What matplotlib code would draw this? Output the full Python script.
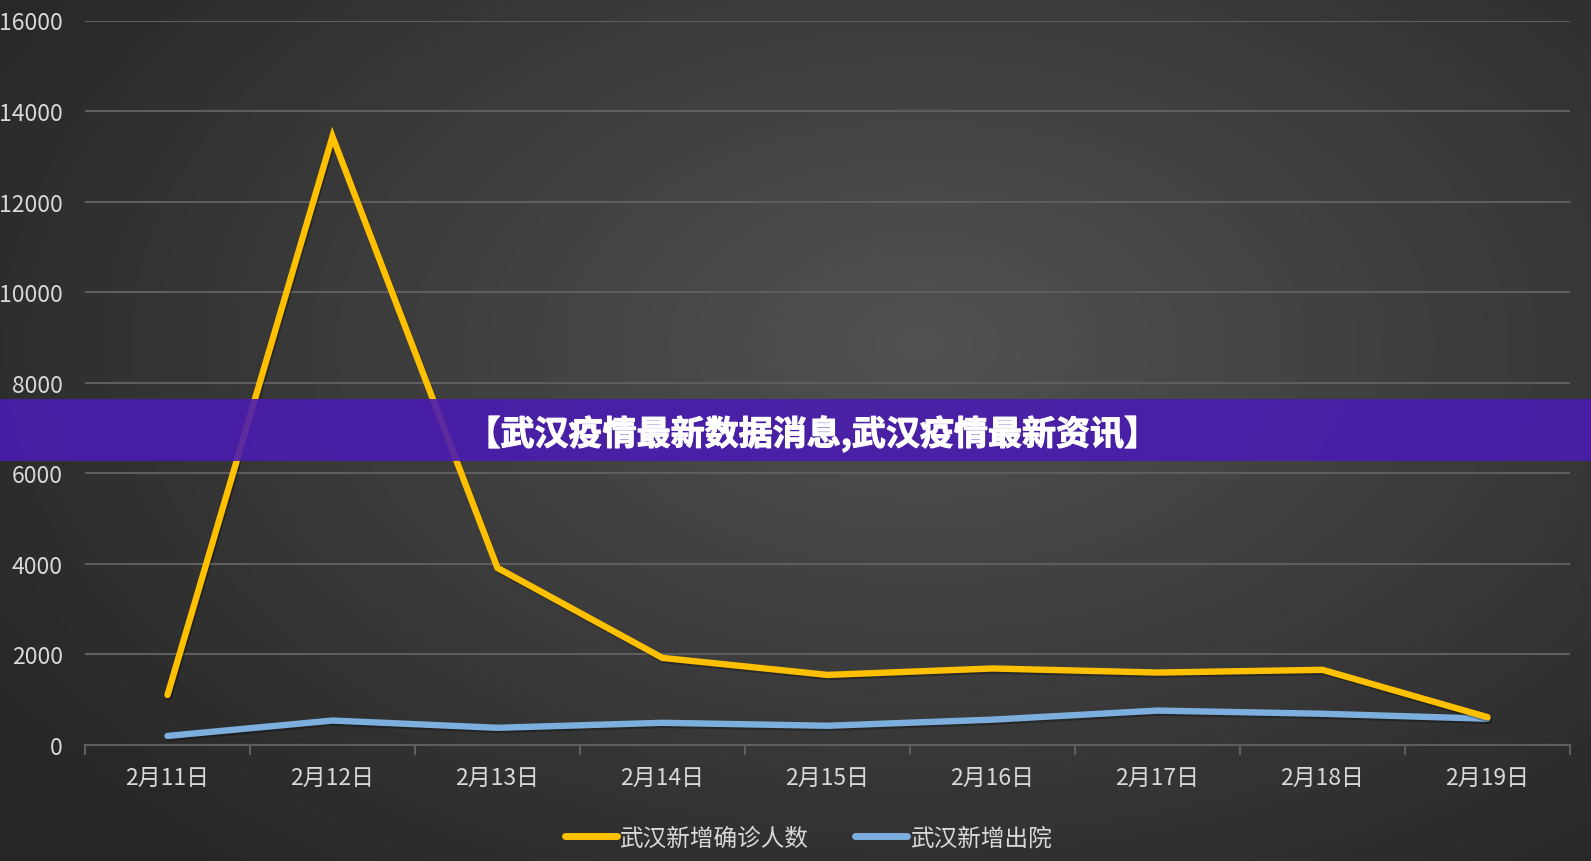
import numpy as np
import matplotlib.pyplot as plt
import matplotlib.patheffects as pe

plt.rcParams['font.family'] = ['Noto Sans CJK SC', 'DejaVu Sans']

dates = ["2月11日", "2月12日", "2月13日", "2月14日", "2月15日",
         "2月16日", "2月17日", "2月18日", "2月19日"]
confirmed = [1104, 13436, 3910, 1923, 1548, 1690, 1600, 1660, 615]
discharged = [200, 540, 380, 490, 425, 560, 760, 690, 580]
series_names = ["武汉新增确诊人数", "武汉新增出院"]
yticks = [0, 2000, 4000, 6000, 8000, 10000, 12000, 14000, 16000]
title = "【武汉疫情最新数据消息,武汉疫情最新资讯】"

W, H = 1591, 862
fig = plt.figure(figsize=(W / 100, H / 100), dpi=100)

# radial gradient background
bg = fig.add_axes([0, 0, 1, 1])
yy, xx = np.mgrid[0:H, 0:W]
r = np.sqrt(((xx - W * 0.58) / (W * 0.7)) ** 2 + ((yy - H * 0.4) / (H * 0.8)) ** 2)
val = np.clip(0.32 - 0.17 * r, 0.15, 0.32)
bg.imshow(val, cmap='gray', vmin=0, vmax=1, aspect='auto', extent=[0, 1, 0, 1])
bg.axis('off')

left, right = 85 / W, 1570 / W
bottom, top = 1 - 746 / H, 1 - 21.5 / H
ax = fig.add_axes([left, bottom, right - left, top - bottom])
ax.set_facecolor('none')

x = np.arange(len(dates))
shadow = [pe.SimpleLineShadow(offset=(1, -1.5), shadow_color='black', alpha=0.3), pe.Normal()]
ax.plot(x, confirmed, color='#ffc000', lw=4.6, solid_capstyle='round',
        solid_joinstyle='miter', path_effects=shadow, label=series_names[0], zorder=4)
ax.plot(x, discharged, color='#7cafdd', lw=4.6, solid_capstyle='round',
        path_effects=shadow, label=series_names[1], zorder=3)

ax.set_xlim(-0.5, len(dates) - 0.5)
ax.set_ylim(0, 16000)
ax.set_yticks(yticks)
ax.set_yticklabels([str(v) for v in yticks])
ax.yaxis.grid(True, color='#5e5e5e', lw=1.5)
ax.set_axisbelow(True)
ax.tick_params(axis='y', length=0, pad=16, labelsize=16.5, labelcolor='#d9d9d9')

ax.set_xticks(x)
ax.set_xticklabels(dates)
ax.set_xticks(np.arange(-0.5, len(dates)), minor=True)
ax.tick_params(axis='x', which='major', length=0, pad=15, labelsize=16.5, labelcolor='#d9d9d9')
ax.tick_params(axis='x', which='minor', length=7, width=1.5, color='#5e5e5e', direction='out')
for s in ['top', 'right', 'left']:
    ax.spines[s].set_visible(False)
ax.spines['bottom'].set_color('#5e5e5e')
ax.spines['bottom'].set_linewidth(1.5)

leg = fig.legend(loc='center', bbox_to_anchor=(808 / W, 1 - 839 / H), ncol=2,
                 frameon=False, fontsize=17, labelcolor='#d9d9d9',
                 handlelength=2.2, handletextpad=0.1, columnspacing=2.0)
for h in leg.get_lines():
    h.set_path_effects([])
    h.set_linewidth(5)

# purple banner
fig.patches.append(plt.Rectangle((0, 1 - 462 / H), 1, 62 / H, transform=fig.transFigure,
                                 facecolor='#4a1cb0', alpha=0.9, zorder=10))
fig.text(812 / W, 1 - 435 / H, title, color='white', fontsize=24.5, fontweight='heavy',
         ha='center', va='center', zorder=11,
         path_effects=[pe.withStroke(linewidth=0.8, foreground='white')])

fig.savefig('out.png', dpi=100)
